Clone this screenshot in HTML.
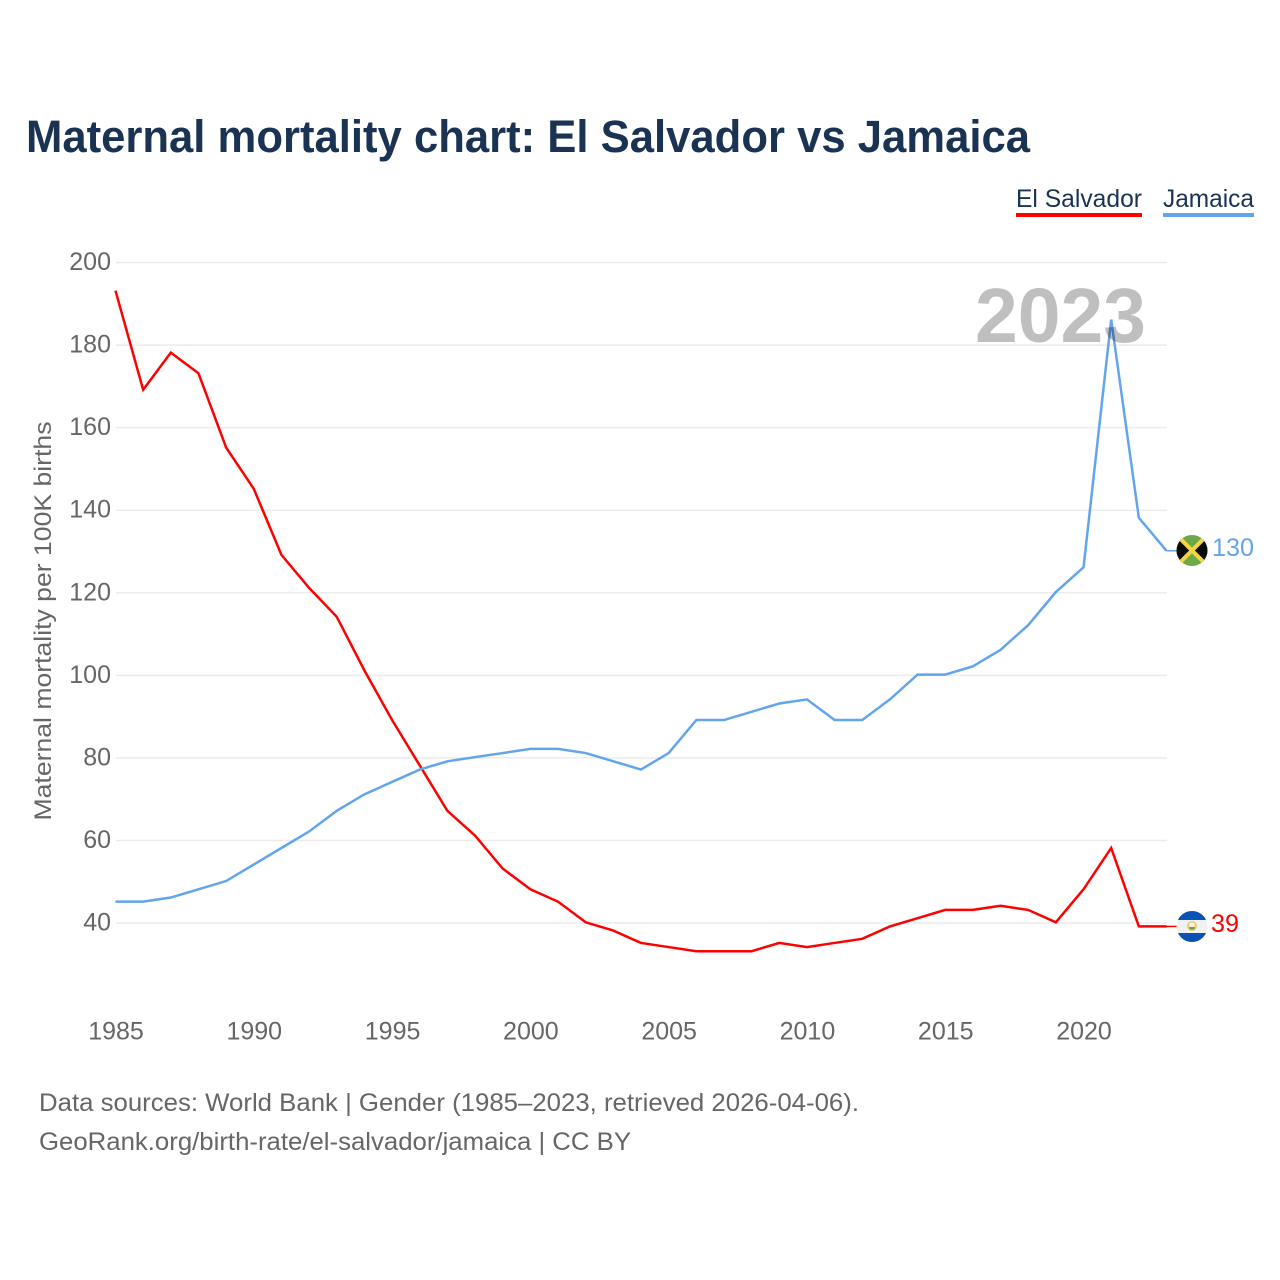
<!DOCTYPE html>
<html lang="en">
<head>
<meta charset="utf-8">
<title>Maternal mortality chart: El Salvador vs Jamaica</title>
<style>
html,body{margin:0;padding:0;background:#fff;width:1280px;height:1280px;overflow:hidden}
svg{display:block}
text{font-family:"Liberation Sans",sans-serif}
</style>
</head>
<body>
<svg id="chart" xmlns="http://www.w3.org/2000/svg" width="1280" height="1280" viewBox="0 0 1280 1280">
  <defs>
    <clipPath id="clip-jm"><circle cx="1192" cy="550.5" r="15.5"/></clipPath>
    <clipPath id="clip-sv"><circle cx="1192" cy="926.5" r="15.5"/></clipPath>
  </defs>
  <rect x="0" y="0" width="1280" height="1280" fill="#fff"/>
  <text x="26" y="152" font-size="45" font-weight="700" fill="#1a3353" textLength="1004" lengthAdjust="spacingAndGlyphs">Maternal mortality chart: El Salvador vs Jamaica</text>

  <g>
    <g>
      <text x="1016" y="207" font-size="25" fill="#1a3353" textLength="126" lengthAdjust="spacingAndGlyphs">El Salvador</text>
      <rect x="1016" y="213" width="126" height="4" fill="#ff0000"/>
    </g>
    <g>
      <text x="1163" y="207" font-size="25" fill="#1a3353" textLength="91" lengthAdjust="spacingAndGlyphs">Jamaica</text>
      <rect x="1163" y="213" width="91" height="4" fill="#62a5ec"/>
    </g>
  </g>

  <g id="grid"></g>
  <g id="yticks"></g>
  <g id="xticks"></g>

  <text transform="translate(51,621) rotate(-90)" text-anchor="middle" font-size="24" fill="#666666" textLength="399" lengthAdjust="spacingAndGlyphs">Maternal mortality per 100K births</text>

  <g id="series"></g>

  <text x="975" y="342" font-size="77" font-weight="700" fill="#000000" fill-opacity="0.25" textLength="171" lengthAdjust="spacingAndGlyphs">2023</text>

  <g clip-path="url(#clip-jm)">
    <rect x="1176" y="535" width="32" height="31" fill="#6fa84a"/>
    <polygon points="1176,534.5 1192,550.5 1176,566.5" fill="#0a0a0a"/>
    <polygon points="1208,534.5 1192,550.5 1208,566.5" fill="#0a0a0a"/>
    <line x1="1176" y1="534.5" x2="1208" y2="566.5" stroke="#f6d63f" stroke-width="4"/>
    <line x1="1208" y1="534.5" x2="1176" y2="566.5" stroke="#f6d63f" stroke-width="4"/>
  </g>
  <g clip-path="url(#clip-sv)">
    <rect x="1176" y="911" width="32" height="31" fill="#f1f1f1"/>
    <rect x="1176" y="911" width="32" height="9" fill="#0b52b5"/>
    <rect x="1176" y="933" width="32" height="9" fill="#0b52b5"/>
    <circle cx="1192" cy="926" r="5" fill="#e8cf5a"/>
    <circle cx="1192" cy="925" r="2.8" fill="#f1f1f1"/>
    <rect x="1189.5" y="927" width="5" height="2.5" fill="#6f9a4a"/>
  </g>

  <text id="end-label-jm" x="1212" y="556" font-size="25" fill="#62a5ec" textLength="42" lengthAdjust="spacingAndGlyphs"></text>
  <text id="end-label-sv" x="1211" y="932" font-size="25" fill="#ff0000" textLength="28" lengthAdjust="spacingAndGlyphs"></text>

  <g>
    <text x="39" y="1111" font-size="25" fill="#666666" textLength="820" lengthAdjust="spacingAndGlyphs">Data sources: World Bank | Gender (1985–2023, retrieved 2026-04-06).</text>
    <text x="39" y="1150" font-size="25" fill="#666666" textLength="592" lengthAdjust="spacingAndGlyphs">GeoRank.org/birth-rate/el-salvador/jamaica | CC BY</text>
  </g>
</svg>
<script>
const years = [1985,1986,1987,1988,1989,1990,1991,1992,1993,1994,1995,1996,1997,1998,1999,2000,2001,2002,2003,2004,2005,2006,2007,2008,2009,2010,2011,2012,2013,2014,2015,2016,2017,2018,2019,2020,2021,2022,2023];
const elSalvador = [193,169,178,173,155,145,129,121,114,101,89,78,67,61,53,48,45,40,38,35,34,33,33,33,35,34,35,36,39,41,43,43,44,43,40,48,58,39,39];
const jamaica = [45,45,46,48,50,54,58,62,67,71,74,77,79,80,81,82,82,81,79,77,81,89,89,91,93,94,89,89,94,100,100,102,106,112,120,126,186,138,130];
const yTickValues = [40,60,80,100,120,140,160,180,200];
const xTickValues = [1985,1990,1995,2000,2005,2010,2015,2020];

const NS = 'http://www.w3.org/2000/svg';
function xScale(year){ return 116 + (year - 1985) * (1167 - 116) / (2023 - 1985); }
function yScale(v){ return 923 - (v - 40) * (923 - 262.5) / (200 - 40); }

const grid = document.getElementById('grid');
const yticks = document.getElementById('yticks');
const xticks = document.getElementById('xticks');
const series = document.getElementById('series');

yTickValues.forEach(function(v){
  const line = document.createElementNS(NS, 'line');
  
  
  line.setAttribute('x1', 116);
  line.setAttribute('x2', 1167);
  line.setAttribute('y1', yScale(v));
  line.setAttribute('y2', yScale(v));
  line.setAttribute('stroke', '#ececec');
  line.setAttribute('stroke-width', 1.5);
  grid.appendChild(line);

  const label = document.createElementNS(NS, 'text');
  
  
  label.setAttribute('x', 111);
  label.setAttribute('y', yScale(v) + 7.5);
  label.setAttribute('text-anchor', 'end');
  label.setAttribute('font-size', 25);
  label.setAttribute('fill', '#666666');
  label.textContent = v;
  yticks.appendChild(label);
});

xTickValues.forEach(function(yr){
  const label = document.createElementNS(NS, 'text');
  
  
  label.setAttribute('x', xScale(yr));
  label.setAttribute('y', 1039.5);
  label.setAttribute('text-anchor', 'middle');
  label.setAttribute('font-size', 25);
  label.setAttribute('fill', '#666666');
  label.textContent = yr;
  xticks.appendChild(label);
});

function drawSeries(values, color, name){
  const pts = values.map(function(v, i){ return (xScale(years[i]) - 0.5).toFixed(2) + ',' + (yScale(v) - 0.7).toFixed(2); });
  const line = document.createElementNS(NS, 'polyline');
  
  
  line.setAttribute('points', pts.join(' '));
  line.setAttribute('fill', 'none');
  line.setAttribute('stroke', color);
  line.setAttribute('stroke-width', 2.5);
  line.setAttribute('stroke-linejoin', 'miter');
  series.appendChild(line);

  const last = values[values.length - 1];
  const link = document.createElementNS(NS, 'line');
  
  
  link.setAttribute('x1', xScale(years[years.length - 1]) - 0.5);
  link.setAttribute('x2', 1177);
  link.setAttribute('y1', yScale(last) - 0.7);
  link.setAttribute('y2', yScale(last) - 0.7);
  link.setAttribute('stroke', color);
  link.setAttribute('stroke-width', 1.5);
  series.appendChild(link);
}
drawSeries(elSalvador, '#ff0000', 'el-salvador');
drawSeries(jamaica, '#62a5ec', 'jamaica');

document.getElementById('end-label-jm').textContent = jamaica[jamaica.length - 1];
document.getElementById('end-label-sv').textContent = elSalvador[elSalvador.length - 1];
</script>
</body>
</html>
